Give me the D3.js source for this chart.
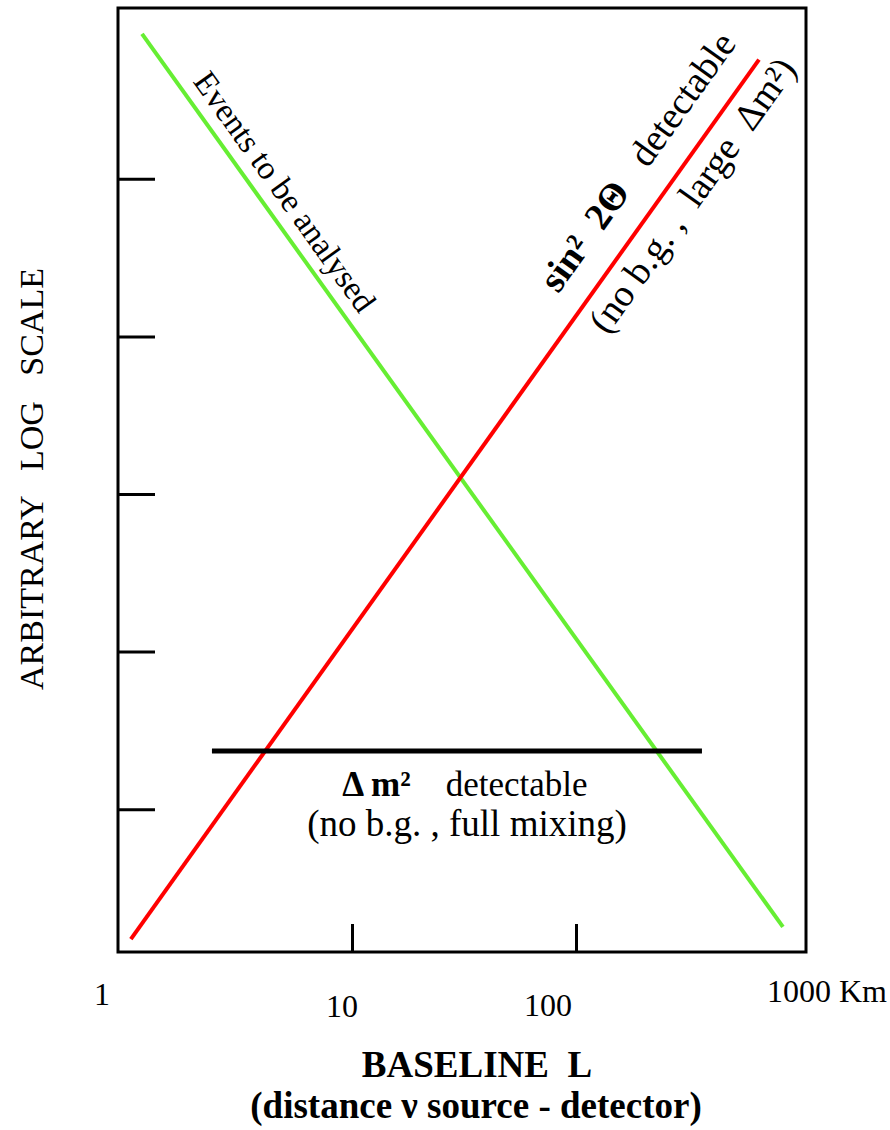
<!DOCTYPE html>
<html>
<head>
<meta charset="utf-8">
<script src="https://cdn.jsdelivr.net/npm/d3@7"></script>
<style>
  body { margin: 0; background: #fff; }
  text { font-family: "Liberation Serif", "Times New Roman", serif; fill: #000; }
  .pre { white-space: pre; }
</style>
</head>
<body>
<svg id="chart" width="890" height="1130"></svg>
<script>
// Baseline axis (km), log scale
const xTickValues = [1, 10, 100, 1000];
const xTickLabels = ["1", "10", "100", "1000 Km"];
const xInnerTicks = [10, 100];

// Arbitrary log scale on the vertical axis
const yTickValues = [1e1, 1e2, 1e3, 1e4, 1e5];

// Straight lines in log-log space: [baseline, level] end points
const eventsLine = [[1.155, 8.3e5], [839, 1.79]];        // events to be analysed
const sin2ThetaLine = [[1.03, 1.5], [656, 5.7e5]];       // sin^2 2Θ sensitivity
const dm2Level = 23.4;                                    // Δm² detectable level
const dm2Range = [2.37, 365];

// ---- layout ----
const svg = d3.select("#chart");
const frame = { left: 118, top: 8, right: 806, bottom: 952 };

const x = d3.scaleLog().domain([1, 1000]).range([128, 800]);
const y = d3.scaleLog().domain([1, 1e6]).range([966.8, 21.2]);

// label nudges for the baseline tick labels: [dx from tick, baseline y]
const xLabelNudge = [[-26, 1005], [-10, 1017], [-28, 1016], [27, 1002]];

// frame
svg.append("rect")
  .attr("x", frame.left).attr("y", frame.top)
  .attr("width", frame.right - frame.left).attr("height", frame.bottom - frame.top)
  .attr("fill", "none").attr("stroke", "#000").attr("stroke-width", 3);

// inner ticks, bottom
const xAxis = d3.axisBottom(x).tickValues(xInnerTicks).tickSize(-28).tickFormat("");
svg.append("g").attr("transform", `translate(0,${frame.bottom})`).call(xAxis)
  .call(g => g.select(".domain").remove())
  .call(g => g.selectAll("line").attr("stroke", "#000").attr("stroke-width", 3));

// inner ticks, left
const yAxis = d3.axisLeft(y).tickValues(yTickValues).tickSize(-37).tickFormat("");
svg.append("g").attr("transform", `translate(${frame.left},0)`).call(yAxis)
  .call(g => g.select(".domain").remove())
  .call(g => g.selectAll("line").attr("stroke", "#000").attr("stroke-width", 3));

// baseline tick labels
svg.append("g").selectAll("text")
  .data(xTickValues)
  .join("text")
  .attr("x", (d, i) => x(d) + xLabelNudge[i][0])
  .attr("y", (d, i) => xLabelNudge[i][1])
  .attr("text-anchor", "middle")
  .attr("font-size", 32)
  .text((d, i) => xTickLabels[i]);

// lines
const lineGen = d3.line().x(d => x(d[0])).y(d => y(d[1]));
svg.append("path").datum(eventsLine).attr("d", lineGen)
  .attr("stroke", "#66ee33").attr("stroke-width", 4).attr("fill", "none");
svg.append("path").datum(sin2ThetaLine).attr("d", lineGen)
  .attr("stroke", "#ff0000").attr("stroke-width", 4).attr("fill", "none");
svg.append("path").datum(dm2Range.map(v => [v, dm2Level])).attr("d", lineGen)
  .attr("stroke", "#000").attr("stroke-width", 5).attr("fill", "none");

// place a group along a line: distance from its first point, rotated with it
function alongLine(line, dist) {
  const p0 = [x(line[0][0]), y(line[0][1])];
  const p1 = [x(line[1][0]), y(line[1][1])];
  const dx = p1[0] - p0[0], dy = p1[1] - p0[1];
  const len = Math.hypot(dx, dy);
  const ux = dx / len, uy = dy / len;
  const ang = Math.atan2(dy, dx) * 180 / Math.PI;
  return `translate(${p0[0] + ux * dist},${p0[1] + uy * dist}) rotate(${ang})`;
}

// "Events to be analysed"
svg.append("g").attr("transform", alongLine(eventsLine, 68))
  .append("text").attr("y", -13).attr("font-size", 33)
  .text("Events to be analysed");

// sin² 2Θ labels
const t1 = svg.append("g").attr("transform", alongLine(sin2ThetaLine, 773))
  .append("text").attr("class", "pre").attr("y", -27).attr("font-size", 38);
t1.append("tspan").attr("font-weight", "bold").text("sin²  2Θ");
t1.append("tspan").text("   detectable");

svg.append("g").attr("transform", alongLine(sin2ThetaLine, 768))
  .append("text").attr("class", "pre").attr("y", 37).attr("font-size", 38)
  .text("(no b.g. ,  large  Δm²)");

// Δm² labels
const t2 = svg.append("text").attr("class", "pre")
  .attr("x", 465).attr("y", 796).attr("text-anchor", "middle").attr("font-size", 35);
t2.append("tspan").attr("font-weight", "bold").text("Δ m²");
t2.append("tspan").text("    detectable");

svg.append("text").attr("class", "pre")
  .attr("x", 467).attr("y", 836).attr("text-anchor", "middle").attr("font-size", 37)
  .text("(no b.g. , full mixing)");

// axis titles
svg.append("text").attr("class", "pre")
  .attr("transform", "translate(43,479) rotate(-90)")
  .attr("text-anchor", "middle").attr("font-size", 34)
  .text("ARBITRARY   LOG   SCALE");

svg.append("text").attr("class", "pre")
  .attr("x", 477).attr("y", 1077).attr("text-anchor", "middle")
  .attr("font-size", 37).attr("font-weight", "bold")
  .text("BASELINE  L");

svg.append("text")
  .attr("x", 476).attr("y", 1118).attr("text-anchor", "middle")
  .attr("font-size", 37).attr("font-weight", "bold")
  .text("(distance ν source - detector)");
</script>
</body>
</html>
